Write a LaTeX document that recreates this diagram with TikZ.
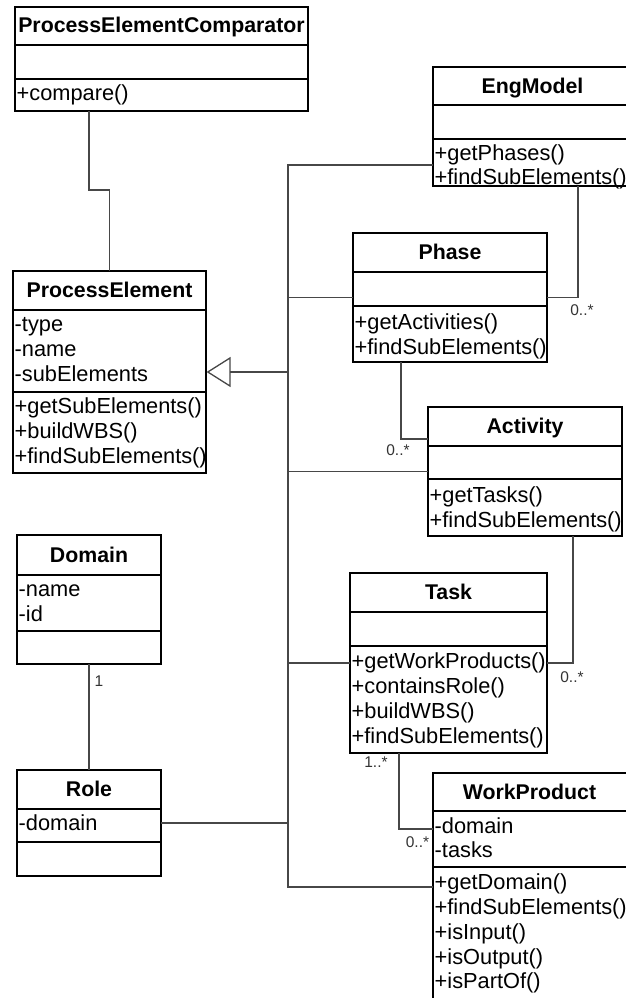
\documentclass[tikz,border=0pt]{standalone}
\usepackage{fontspec}
\setmainfont{Liberation Sans}
\usetikzlibrary{arrows.meta}
\tikzset{
  cls/.style={draw=black, line width=1.8pt, rectangle, inner sep=0pt, outer sep=0pt},
  divline/.style={draw=black, line width=1.8pt},
  conn/.style={draw=black!72, line width=1.3pt},
  ttl/.style={font=\bfseries\fontsize{21.3}{25}\selectfont, anchor=base, inner sep=0pt},
  rowtxt/.style={font=\fontsize{21.8}{25}\selectfont, anchor=base west, inner sep=0pt, xshift=1.5pt},
  mult/.style={font=\fontsize{15.5}{18}\selectfont, text=black!80, inner sep=0pt},
}
\begin{document}
\begin{tikzpicture}[x=1pt,y=-1pt]
\useasboundingbox (0,0) rectangle (625,998);

% ---------- ProcessElementComparator
\node[cls, minimum width=293pt, minimum height=104pt] (pec) at (161.5,59) {};
\draw[divline] (pec.west |- 0,45) -- (pec.east |- 0,45);
\draw[divline] (pec.west |- 0,79) -- (pec.east |- 0,79);
\node[ttl] (pec-t) at (pec.north |- 0,33) {ProcessElementComparator};
\node[rowtxt] (pec-m1) at (pec.west |- 0,100.5) {+compare()};

% ---------- EngModel
\node[cls, minimum width=199pt, minimum height=119pt] (em) at (532.5,126.5) {};
\draw[divline] (em.west |- 0,105) -- (em.east |- 0,105);
\draw[divline] (em.west |- 0,139) -- (em.east |- 0,139);
\node[ttl] (em-t) at (em.north |- 0,93) {EngModel};
\node[rowtxt] (em-m1) at (em.west |- 0,160.5) {+getPhases()};
\node[rowtxt] (em-m2) at (em.west |- 0,184.5) {+findSubElements()};

% ---------- Phase
\node[cls, minimum width=194pt, minimum height=129pt] (ph) at (450,297.5) {};
\draw[divline] (ph.west |- 0,272) -- (ph.east |- 0,272);
\draw[divline] (ph.west |- 0,306) -- (ph.east |- 0,306);
\node[ttl] (ph-t) at (ph.north |- 0,259.5) {Phase};
\node[rowtxt] (ph-m1) at (ph.west |- 0,329.5) {+getActivities()};
\node[rowtxt] (ph-m2) at (ph.west |- 0,354) {+findSubElements()};

% ---------- ProcessElement
\node[cls, minimum width=193pt, minimum height=202pt] (pe) at (109.5,372) {};
\draw[divline] (pe.west |- 0,310) -- (pe.east |- 0,310);
\draw[divline] (pe.west |- 0,392) -- (pe.east |- 0,392);
\node[ttl] (pe-t) at (pe.north |- 0,297.5) {ProcessElement};
\node[rowtxt] (pe-a1) at (pe.west |- 0,331.5) {-type};
\node[rowtxt] (pe-a2) at (pe.west |- 0,356.5) {-name};
\node[rowtxt] (pe-a3) at (pe.west |- 0,381.5) {-subElements};
\node[rowtxt] (pe-m1) at (pe.west |- 0,413.5) {+getSubElements()};
\node[rowtxt] (pe-m2) at (pe.west |- 0,438.5) {+buildWBS()};
\node[rowtxt] (pe-m3) at (pe.west |- 0,463.5) {+findSubElements()};

% ---------- Activity
\node[cls, minimum width=194pt, minimum height=129pt] (act) at (525,471.5) {};
\draw[divline] (act.west |- 0,446) -- (act.east |- 0,446);
\draw[divline] (act.west |- 0,479) -- (act.east |- 0,479);
\node[ttl] (act-t) at (act.north |- 0,433.5) {Activity};
\node[rowtxt] (act-m1) at (act.west |- 0,502) {+getTasks()};
\node[rowtxt] (act-m2) at (act.west |- 0,527.5) {+findSubElements()};

% ---------- Domain
\node[cls, minimum width=144pt, minimum height=129pt] (dom) at (89,599.5) {};
\draw[divline] (dom.west |- 0,575) -- (dom.east |- 0,575);
\draw[divline] (dom.west |- 0,631) -- (dom.east |- 0,631);
\node[ttl] (dom-t) at (dom.north |- 0,562) {Domain};
\node[rowtxt] (dom-a1) at (dom.west |- 0,596) {-name};
\node[rowtxt] (dom-a2) at (dom.west |- 0,621) {-id};

% ---------- Role
\node[cls, minimum width=144pt, minimum height=106pt] (role) at (89,823) {};
\draw[divline] (role.west |- 0,809) -- (role.east |- 0,809);
\draw[divline] (role.west |- 0,842) -- (role.east |- 0,842);
\node[ttl] (role-t) at (role.north |- 0,796.5) {Role};
\node[rowtxt] (role-a1) at (role.west |- 0,830) {-domain};

% ---------- Task
\node[cls, minimum width=197pt, minimum height=180pt] (task) at (448.5,663) {};
\draw[divline] (task.west |- 0,612) -- (task.east |- 0,612);
\draw[divline] (task.west |- 0,646) -- (task.east |- 0,646);
\node[ttl] (task-t) at (task.north |- 0,599.5) {Task};
\node[rowtxt] (task-m1) at (task.west |- 0,668) {+getWorkProducts()};
\node[rowtxt] (task-m2) at (task.west |- 0,693) {+containsRole()};
\node[rowtxt] (task-m3) at (task.west |- 0,718) {+buildWBS()};
\node[rowtxt] (task-m4) at (task.west |- 0,743) {+findSubElements()};

% ---------- WorkProduct
\node[cls, minimum width=199pt, minimum height=228pt] (wp) at (532.5,887) {};
\draw[divline] (wp.west |- 0,811) -- (wp.east |- 0,811);
\draw[divline] (wp.west |- 0,867) -- (wp.east |- 0,867);
\node[ttl] (wp-t) at (529.5,799) {WorkProduct};
\node[rowtxt] (wp-a1) at (wp.west |- 0,833) {-domain};
\node[rowtxt] (wp-a2) at (wp.west |- 0,857.5) {-tasks};
\node[rowtxt] (wp-m1) at (wp.west |- 0,889) {+getDomain()};
\node[rowtxt] (wp-m2) at (wp.west |- 0,914) {+findSubElements()};
\node[rowtxt] (wp-m3) at (wp.west |- 0,939) {+isInput()};
\node[rowtxt] (wp-m4) at (wp.west |- 0,964) {+isOutput()};
\node[rowtxt] (wp-m5) at (wp.west |- 0,988.5) {+isPartOf()};

% ---------- connectors
\coordinate (b1) at (89,190);
\draw[conn] (pec.south -| b1) -- (b1) -| (pe.north);

\coordinate (t0) at (288,165);
\draw[conn] (em.west |- t0) -- (t0) |- (wp.west);
\draw[conn] (ph.west) -- (ph.west -| t0);
\draw[conn] (act.west) -- (act.west -| t0);
\draw[conn] (task.west) -- (task.west -| t0);
\draw[conn] (role.east) -- (role.east -| t0);
\draw[conn, -{Triangle[open, length=24pt, width=30pt, line width=1.3pt]}, shorten >=0.6pt] (pe.east -| t0) -- (pe.east);

\draw[conn] (ph.east) -| (em.south -| 578,0);
\draw[conn] (ph.south -| 401,0) |- (act.west |- 0,439);
\draw[conn] (act.south -| 573,0) |- (task.east);
\draw[conn] (task.south -| 399,0) |- (wp.west |- 0,829);
\draw[conn] (dom.south) -- (role.north);

% ---------- multiplicities
\node[mult] (m1) at (582,310) {0..*};
\node[mult] (m2) at (398,450) {0..*};
\node[mult] (m3) at (99,681) {1};
\node[mult] (m4) at (572,677) {0..*};
\node[mult] (m5) at (376,762) {1..*};
\node[mult] (m6) at (417.5,842) {0..*};
\end{tikzpicture}
\end{document}
